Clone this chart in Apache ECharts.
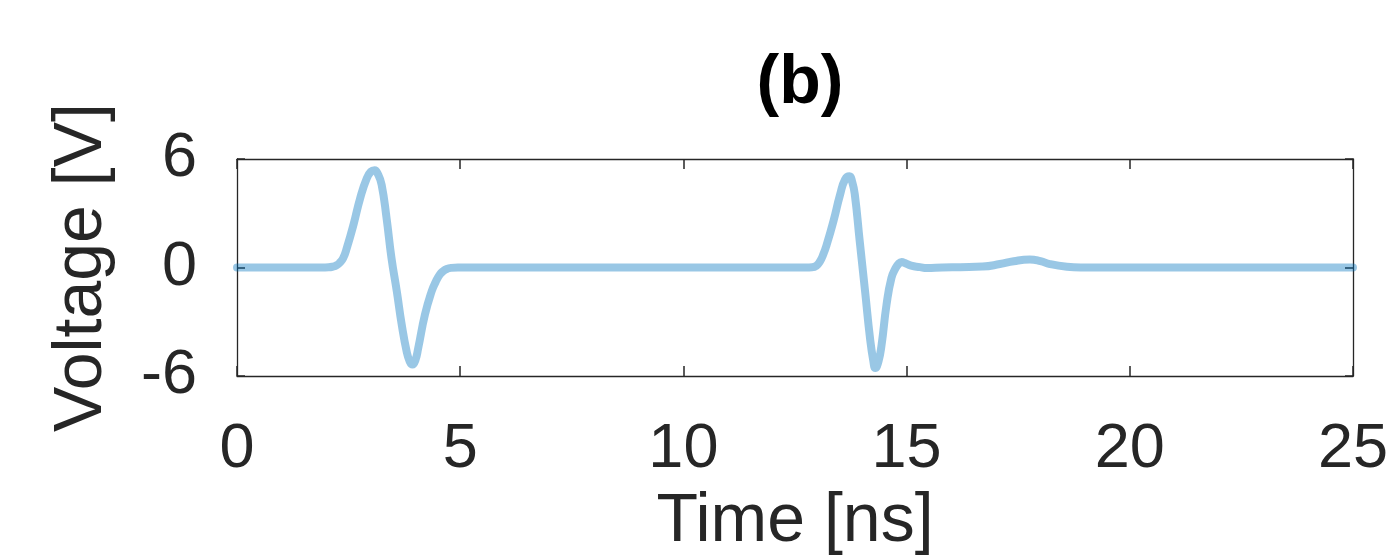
<!DOCTYPE html>
<html>
<head>
<meta charset="utf-8">
<script src="https://cdn.jsdelivr.net/npm/echarts@6/dist/echarts.min.js"></script>
<style>
html,body{margin:0;padding:0;background:#fff;}
#c{width:1393px;height:558px;}
</style>
</head>
<body>
<div id="c"></div>
<script>
// Data
var titleText = '(b)';
var xName = 'Time [ns]';
var yName = 'Voltage [V]';
var xTicks = [0, 5, 10, 15, 20, 25];
var yTicks = [-6, 0, 6];
var timeNs = [
  0, 1.9, 2.05, 2.15, 2.23, 2.30, 2.38, 2.46, 2.61, 2.76, 2.91, 3.00, 3.08, 3.16, 3.24, 3.35, 3.46, 3.58, 3.69, 3.80, 3.87, 3.93,
  4.00, 4.06, 4.21, 4.36, 4.45, 4.54, 4.62, 4.70, 4.80, 4.95,
  12.75, 12.88, 12.98, 13.06, 13.13, 13.21, 13.36, 13.51, 13.62, 13.72, 13.78, 13.84, 13.95, 14.07, 14.18, 14.25, 14.30, 14.37,
  14.44, 14.55, 14.66, 14.75, 14.82, 14.89, 14.96, 15.10, 15.30, 15.45, 15.8, 16.2, 16.7, 17.09, 17.4, 17.76,
  18.0, 18.21, 18.59, 18.9, 25
];
var voltage = [
  0, 0, 0.01, 0.05, 0.12, 0.26, 0.53, 1.08, 2.37, 3.84, 4.95, 5.3, 5.38, 5.15, 4.58, 2.74, 0.53, -1.32, -3.16, -4.64, -5.2, -5.37,
  -5.1, -4.45, -2.61, -1.32, -0.8, -0.4, -0.2, -0.08, -0.02, 0,
  0, 0.01, 0.1, 0.34, 0.7, 1.26, 2.55, 4.03, 4.86, 5.04, 4.75, 4.03, 1.45, -1.32, -3.9, -5.1, -5.56, -5.2,
  -4.27, -2.06, -0.58, -0.05, 0.2, 0.3, 0.25, 0.1, 0.02, -0.03, 0, 0.02, 0.05, 0.19, 0.35, 0.44,
  0.35, 0.19, 0.04, 0, 0
];

var seriesData = timeNs.map(function (t, i) { return [t, voltage[i]]; });
var ink = '#262626';
var font = 'Liberation Sans, Arial, Helvetica, sans-serif';

var chart = echarts.init(document.getElementById('c'), null, {renderer: 'canvas'});
var xMin = xTicks[0], xMax = xTicks[xTicks.length - 1], xInt = xTicks[1] - xTicks[0];
var yMin = yTicks[0], yMax = yTicks[yTicks.length - 1], yInt = yTicks[1] - yTicks[0];

function axisLine() { return {show: true, onZero: false, lineStyle: {color: ink, width: 1.3}}; }
function tick(len) { return {show: true, inside: true, length: len, lineStyle: {color: ink, width: 1.5}}; }

chart.setOption({
  animation: false,
  backgroundColor: '#ffffff',
  title: {
    text: titleText,
    left: 795,
    top: 45,
    textAlign: 'center',
    textStyle: {fontFamily: font, fontSize: 68, fontWeight: 'bold', color: '#000000'}
  },
  grid: {left: 237, right: 40, top: 159, bottom: 182, containLabel: false},
  xAxis: [{
    type: 'value', min: xMin, max: xMax, interval: xInt, position: 'bottom',
    name: xName, nameLocation: 'middle', nameGap: 112,
    nameTextStyle: {fontFamily: font, fontSize: 68, color: ink},
    axisLine: axisLine(),
    axisTick: tick(10),
    axisLabel: {show: true, margin: 42, fontFamily: font, fontSize: 63, color: ink},
    splitLine: {show: false}
  }, {
    type: 'value', min: xMin, max: xMax, interval: xInt, position: 'top',
    axisLine: axisLine(),
    axisTick: tick(10),
    axisLabel: {show: false},
    splitLine: {show: false}
  }],
  yAxis: [{
    type: 'value', min: yMin, max: yMax, interval: yInt, position: 'left',
    name: yName, nameLocation: 'middle', nameGap: 121,
    nameTextStyle: {fontFamily: font, fontSize: 68, color: ink},
    axisLine: axisLine(),
    axisTick: tick(8),
    axisLabel: {show: true, margin: 40, fontFamily: font, fontSize: 63, color: ink},
    splitLine: {show: false}
  }, {
    type: 'value', min: yMin, max: yMax, interval: yInt, position: 'right',
    axisLine: axisLine(),
    axisTick: tick(8),
    axisLabel: {show: false},
    splitLine: {show: false}
  }],
  series: [{
    type: 'line',
    xAxisIndex: 0, yAxisIndex: 0,
    data: seriesData,
    showSymbol: false,
    symbol: 'none',
    smooth: 0.5,
    lineStyle: {color: '#0072BD', width: 8, opacity: 0.4, cap: 'round', join: 'round'},
    z: 1
  }]
});
</script>
</body>
</html>
